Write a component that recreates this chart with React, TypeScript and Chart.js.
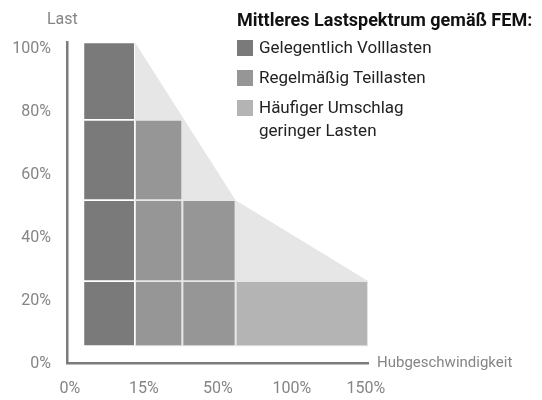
import React, { useEffect, useRef } from 'react';
import { Chart, registerables } from 'chart.js';

Chart.register(...registerables);

// ---- data ----
const xTickLabels = ['0%', '15%', '50%', '100%', '150%'];
const xTickValues = [0, 1, 2, 3, 4];
const yTickValues = [0, 20, 40, 60, 80, 100];
// column boundaries along the speed axis (axis units, one unit per tick label)
const columnEdges = [0.18, 0.88, 1.52, 2.24, 4.03];
// load levels (%) separating the stacked cells
const rowEdges = [5.5, 26.2, 51.9, 77.4, 102];
const cellsPerColumn = [4, 3, 2, 1];
const columnSeries = [0, 1, 1, 2];
const seriesNames = ['Gelegentlich Volllasten', 'Regelmäßig Teillasten', 'Häufiger Umschlag\ngeringer Lasten'];
const seriesColors = ['#7a7a7a', '#969696', '#b4b4b4'];
// upper envelope of the spectrum
const envelopeX = [0.88, 2.24, 4.03];
const envelopeY = [102, 51.9, 26.2];

const legendTitle = 'Mittleres Lastspektrum gemäß FEM:';
const yAxisTitle = 'Last';
const xAxisTitle = 'Hubgeschwindigkeit';

const FONT = 'Roboto, "Noto Sans", sans-serif';
const AXIS_GREY = '#7b7b7b';
const TEXT_GREY = '#858585';
const GAP_X = 0.0115;
const GAP_Y = 0.27;

export default function App() {
  const canvasRef = useRef<HTMLCanvasElement | null>(null);

  useEffect(() => {
    const canvas = canvasRef.current;
    if (!canvas) return;
    const datasets: any[] = [];
    datasets.push({
      type: 'line',
      label: 'envelope',
      data: envelopeX.map((x, i) => ({ x, y: envelopeY[i] })),
      fill: { value: rowEdges[0] },
      backgroundColor: '#e6e6e6',
      borderColor: 'transparent',
      borderWidth: 0,
      pointRadius: 0,
      tension: 0,
      order: 1,
    });
    cellsPerColumn.forEach((n, c) => {
      for (let r = 0; r < n; r++) {
        const x0 = columnEdges[c] + GAP_X;
        const x1 = columnEdges[c + 1] - GAP_X;
        const y0 = rowEdges[r] + GAP_Y;
        const y1 = rowEdges[r + 1] - GAP_Y;
        datasets.push({
          type: 'line',
          label: seriesNames[columnSeries[c]],
          data: [
            { x: x0, y: y1 },
            { x: x1, y: y1 },
          ],
          fill: { value: y0 },
          backgroundColor: seriesColors[columnSeries[c]],
          borderColor: 'transparent',
          borderWidth: 0,
          pointRadius: 0,
          tension: 0,
          order: 0,
        });
      }
    });

    const chart = new Chart(canvas, {
      type: 'line',
      data: { datasets },
      options: {
        responsive: false,
        animation: false,
        events: [],
        layout: { padding: { left: 0, right: 174, top: 42.5, bottom: 0 } },
        plugins: { legend: { display: false }, tooltip: { enabled: false } },
        scales: {
          x: {
            type: 'linear',
            min: -0.04,
            max: 4.03,
            grid: { display: false, drawTicks: false },
            border: { display: true, color: AXIS_GREY, width: 2.5 },
            afterBuildTicks: (axis: any) => {
              axis.ticks = xTickValues.map((v) => ({ value: v }));
            },
            afterFit: (axis: any) => {
              axis.height = 36.5;
            },
            ticks: {
              padding: 16,
              color: TEXT_GREY,
              font: { family: FONT, size: 16 },
              maxRotation: 0,
              autoSkip: false,
              callback: (v: any) => xTickLabels[xTickValues.indexOf(Number(v))] ?? '',
            },
          },
          y: {
            type: 'linear',
            min: 0,
            max: 102,
            grid: { display: false, drawTicks: false },
            border: { display: true, color: AXIS_GREY, width: 2.5 },
            afterBuildTicks: (axis: any) => {
              axis.ticks = yTickValues.map((v) => ({ value: v }));
            },
            afterFit: (axis: any) => {
              axis.width = 67;
            },
            ticks: {
              padding: 16,
              color: TEXT_GREY,
              font: { family: FONT, size: 16 },
              callback: (v: any) => `${v}%`,
            },
          },
        },
      },
    });
    return () => chart.destroy();
  }, []);

  return (
    <div style={{ position: 'fixed', left: 0, top: 0, width: 542, height: 400, background: '#fff', fontFamily: FONT }}>
      <canvas ref={canvasRef} width={542} height={400} style={{ position: 'absolute', left: 0, top: 0, width: 542, height: 400 }} />
      <div style={{ position: 'absolute', left: 47, top: 9, fontSize: 16, lineHeight: '20px', color: TEXT_GREY }}>{yAxisTitle}</div>
      <div style={{ position: 'absolute', left: 377, top: 352, fontSize: 15, lineHeight: '20px', color: TEXT_GREY }}>{xAxisTitle}</div>
      <div style={{ position: 'absolute', left: 237, top: 8, fontSize: 18, lineHeight: '24px', fontWeight: 700, color: '#111', whiteSpace: 'nowrap' }}>
        {legendTitle}
      </div>
      {seriesNames.map((name, i) => (
        <div key={name} style={{ position: 'absolute', left: 237, top: 40 + i * 30, display: 'flex', alignItems: 'flex-start' }}>
          <div style={{ width: 16, height: 16, background: seriesColors[i], flex: 'none' }} />
          <div style={{ marginLeft: 6, marginTop: -4, fontSize: 17, lineHeight: '23px', color: '#222', whiteSpace: 'pre-line' }}>{name}</div>
        </div>
      ))}
    </div>
  );
}
